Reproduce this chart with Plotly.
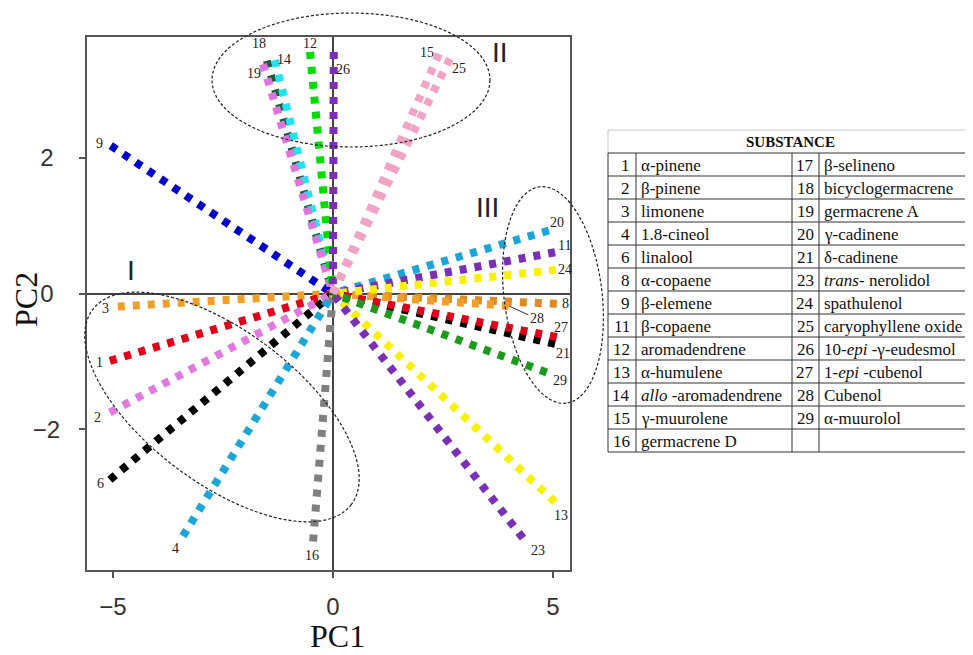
import math
import plotly.graph_objects as go

# ---------------- data ----------------
ids = ["1", "2", "3", "4", "6", "8", "9", "11", "12", "13", "14", "15", "16",
       "18", "19", "20", "21", "23", "24", "25", "26", "27", "28", "29"]
pc1 = [-5.07, -5.07, -4.89, -3.41, -5.07, 5.09, -5.05, 5.05, -0.52, 5.05, -1.32, 2.41, -0.45,
       -1.50, -1.59, 4.91, 5.05, 4.32, 5.07, 2.66, 0.02, 5.09, 4.00, 4.86]
pc2 = [-0.99, -1.75, -0.19, -3.57, -2.74, -0.15, 2.18, 0.61, 3.56, -3.07, 3.44, 3.53, -3.65,
       3.43, 3.38, 0.93, -0.74, -3.60, 0.35, 3.46, 3.56, -0.64, -0.18, -1.16]

x_ticks = [-5, 0, 5]
y_ticks = [-2, 0, 2]
y_ticktext = ["−2", "0\u2008", "2\u2008"]

left_nums = ["1", "2", "3", "4", "6", "8", "9", "11", "12", "13", "14", "15", "16"]
left_names = ["α-pinene", "β-pinene", "limonene", "1.8-cineol", "linalool", "α-copaene",
              "β-elemene", "β-copaene", "aromadendrene", "α-humulene",
              "<i>allo</i> -aromadendrene", "γ-muurolene", "germacrene D"]
right_nums = ["17", "18", "19", "20", "21", "23", "24", "25", "26", "27", "28", "29", ""]
right_names = ["β-selineno", "bicyclogermacrene", "germacrene A", "γ-cadinene", "δ-cadinene",
               "<i>trans</i>- nerolidol", "spathulenol", "caryophyllene oxide",
               "10-<i>epi</i> -γ-eudesmol", "1-<i>epi</i> -cubenol", "Cubenol", "α-muurolol", ""]

# ---------------- styles ----------------
OFF = 8                      # page body margin
W, H = 973 - OFF, 655 - OFF  # figure size
colors = {
    "1": "#E0001A", "2": "#E07AE0", "3": "#F0A028", "4": "#1CA6D8", "6": "#000000",
    "8": "#E08A24", "9": "#0000C8", "11": "#7B2FB5", "12": "#00DC00", "13": "#F8F200",
    "14": "#22E2EE", "15": "#F2A2C2", "16": "#808080", "18": "#1D5C3A", "19": "#DE74DE",
    "20": "#1CA6D8", "21": "#000000", "23": "#7B2FB5", "24": "#F8F200", "25": "#F2A2C2",
    "26": "#7B2FB5", "27": "#E0001A", "28": "#F0A028", "29": "#1B9B1B",
}
# label offsets in px (dx right, dy up)
label_off = {
    "1": (-10, -2), "2": (-12, -5), "3": (-12, -2), "4": (-7, -12), "6": (-9, -4),
    "8": (9, 0), "9": (-11, 2), "11": (9, 7), "12": (0, 8), "13": (6, -13),
    "14": (9, 1), "15": (-12, 1), "16": (-1, -14), "18": (-8, 17), "19": (-9, -9),
    "20": (8, 8), "21": (8, -10), "23": (15, -12), "24": (9, 0), "25": (9, -10),
    "26": (9, -18), "27": (4, 10), "29": (13, -8),
}
draw_order = ["9", "3", "8", "28", "1", "2", "6", "4", "16", "13", "23", "20", "11", "24",
              "21", "27", "29", "18", "14", "19", "12", "26", "15", "25"]

x_range = [-5.59, 5.39]
y_range = [-4.07, 3.78]
plot_l, plot_r, plot_t, plot_b = 87, 570, 37, 570


def px2p(px, py):
    return (px - OFF) / W, 1 - (py - OFF) / H


fig = go.Figure()
for key in draw_order:
    i = ids.index(key)
    fig.add_trace(go.Scatter(
        x=[pc1[i], 0], y=[pc2[i], 0], mode="lines",
        line=dict(color=colors[key], width=8, dash="7px,8px"),
        hoverinfo="skip", showlegend=False,
    ))

serif = "Liberation Serif, Times New Roman, serif"
sans = "Liberation Sans, Arial, sans-serif"

annotations = []
for i, key in enumerate(ids):
    if key == "28":
        annotations.append(dict(x=pc1[i], y=pc2[i], xref="x", yref="y", text=key,
                                showarrow=True, arrowhead=0, arrowwidth=1, arrowcolor="#333",
                                ax=28, ay=13, font=dict(family=serif, size=14, color="#222")))
        continue
    dx, dy = label_off[key]
    annotations.append(dict(x=pc1[i], y=pc2[i], xref="x", yref="y", text=key,
                            showarrow=False, xshift=dx, yshift=dy,
                            xanchor="center", yanchor="middle",
                            font=dict(family=serif, size=14, color="#222")))


def paper_text(px, py, text, font, xanchor="center", angle=0):
    xp, yp = px2p(px, py)
    annotations.append(dict(x=xp, y=yp, xref="paper", yref="paper", text=text, showarrow=False,
                            xanchor=xanchor, yanchor="middle", textangle=angle, font=font))


# roman numerals
for txt, (px, py) in [("I", (131, 271)), ("II", (500, 52)), ("III", (487, 207))]:
    paper_text(px, py, txt, dict(family=sans, size=28, color="#222"))

# axis titles
paper_text(337, 636, "PC1", dict(family=serif, size=32, color="#111"))
paper_text(26, 300, "PC2", dict(family=serif, size=32, color="#111"), angle=-90)


def ellipse_path(cx, cy, a, b, ang_deg, n=120):
    t = math.radians(ang_deg)
    pts = []
    for k in range(n + 1):
        th = 2 * math.pi * k / n
        ex, ey = a * math.cos(th), b * math.sin(th)
        px = cx + ex * math.cos(t) - ey * math.sin(t)
        py = cy + ex * math.sin(t) + ey * math.cos(t)
        xp, yp = px2p(px, py)
        pts.append(f"{xp:.5f},{yp:.5f}")
    return "M" + " L".join(pts) + " Z"


shapes = []
for (cx, cy, a, b, ang) in [(222, 407, 162, 76, 37), (351, 80, 139, 67, 0), (553, 295, 109, 49, 83)]:
    shapes.append(dict(type="path", path=ellipse_path(cx, cy, a, b, ang), xref="paper", yref="paper",
                       line=dict(color="#222", width=1.2, dash="3px,2px"), layer="above"))

# ---------------- table ----------------
t_left, t_c1, t_c2, t_c3, t_right = 608, 636, 792, 819, 972
t_top, head_b, row_h = 130, 153, 23
n_rows = len(left_nums)
t_bot = head_b + row_h * n_rows


def seg(x0, y0, x1, y1, color="#333", w=1):
    a0 = px2p(x0, y0)
    a1 = px2p(x1, y1)
    shapes.append(dict(type="line", xref="paper", yref="paper", x0=a0[0], y0=a0[1], x1=a1[0], y1=a1[1],
                       line=dict(color=color, width=w)))


seg(t_left, t_top, t_right, t_top, color="#c8c8c8")
seg(t_left, t_top, t_left, head_b, color="#c8c8c8")
seg(t_right, t_top, t_right, head_b, color="#c8c8c8")
for r in range(n_rows + 1):
    yy = head_b + r * row_h
    seg(t_left, yy, t_right, yy)
for xv in [t_left, t_c1, t_c2, t_c3, t_right]:
    seg(xv, head_b, xv, t_bot)

paper_text((t_left + t_right) / 2, (t_top + head_b) / 2 + 1, "<b>SUBSTANCE</b>",
           dict(family=serif, size=15, color="#111"))

for r in range(n_rows):
    cy = head_b + r * row_h + row_h / 2 + 1
    for num, name, xnum, xname in [(left_nums[r], left_names[r], t_c1 - 4, t_c1 + 3),
                                   (right_nums[r], right_names[r], t_c3 - 3, t_c3 + 3)]:
        if num:
            paper_text(xnum, cy, num, dict(family=serif, size=17, color="#111"), xanchor="right")
        if name:
            paper_text(xname, cy, name, dict(family=serif, size=17, color="#111"), xanchor="left")

axis_common = dict(showgrid=False, showline=True, mirror=True, linecolor="#555", linewidth=2,
                   zeroline=True, zerolinecolor="#444", zerolinewidth=1.5,
                   ticks="outside", ticklen=6, tickwidth=1.5, tickcolor="#555",
                   tickfont=dict(family=sans, size=24, color="#333"))

fig.update_layout(
    width=W, height=H, margin=dict(l=0, r=0, t=0, b=0),
    paper_bgcolor="white", plot_bgcolor="white", showlegend=False,
    xaxis=dict(range=x_range, domain=[(plot_l - OFF) / W, (plot_r - OFF) / W], tickvals=x_ticks,
               ticklabelstandoff=8, **axis_common),
    yaxis=dict(range=y_range, domain=[1 - (plot_b - OFF) / H, 1 - (plot_t - OFF) / H], tickvals=y_ticks,
               ticktext=y_ticktext, ticklabelstandoff=14, **axis_common),
    annotations=annotations, shapes=shapes,
)

fig.write_html("out.html")
